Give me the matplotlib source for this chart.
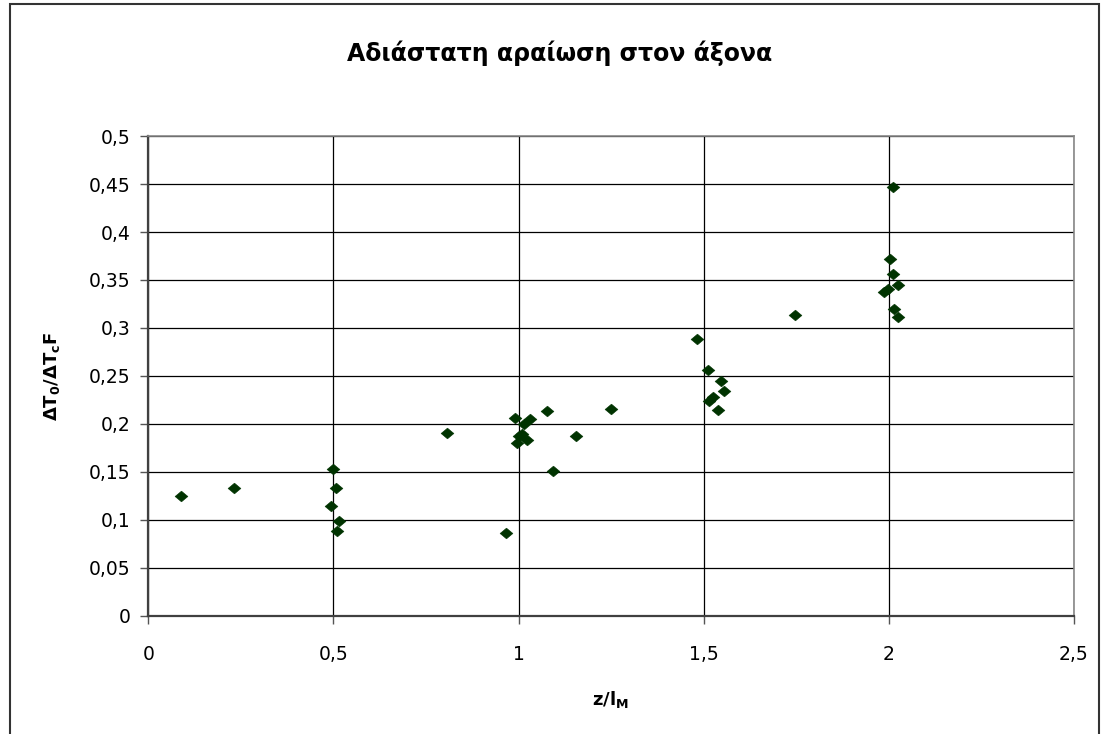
import matplotlib.pyplot as plt
from matplotlib.ticker import MultipleLocator, FuncFormatter
from matplotlib.patches import Rectangle
from matplotlib.path import Path

# z/lM and dimensionless dilution
z_over_lm = [0.088, 0.231, 0.499, 0.508, 0.493, 0.516, 0.509, 0.807, 0.966,
             0.990, 1.031, 1.000, 0.995, 1.022, 1.008, 1.015, 1.076, 1.092,
             1.154, 1.250, 1.481, 1.512, 1.548, 1.555, 1.526, 1.515, 1.538,
             1.746, 2.010, 2.003, 2.010, 2.025, 1.998, 1.988, 2.015, 2.025]
dilution = [0.125, 0.133, 0.153, 0.133, 0.115, 0.099, 0.088, 0.191, 0.086,
            0.206, 0.205, 0.187, 0.180, 0.183, 0.190, 0.200, 0.214, 0.151,
            0.188, 0.216, 0.289, 0.256, 0.245, 0.234, 0.228, 0.224, 0.215,
            0.314, 0.447, 0.372, 0.356, 0.345, 0.341, 0.337, 0.320, 0.311]

title = 'Αδιάστατη αραίωση στον άξονα'

plt.rcParams['font.family'] = ['DejaVu Sans']
plt.rcParams['mathtext.fontset'] = 'custom'
plt.rcParams['mathtext.rm'] = 'DejaVu Sans:bold'
plt.rcParams['mathtext.it'] = 'DejaVu Sans:bold'
plt.rcParams['mathtext.bf'] = 'DejaVu Sans:bold'

fig = plt.figure(figsize=(11.04, 7.34), dpi=100)
ax = fig.add_axes([0.1343, 0.1608, 0.8385, 0.6539])

# outer chart frame
fig.patches.append(Rectangle((10 / 1104, -0.1), 1089 / 1104, 1.1 - 4 / 734,
                             transform=fig.transFigure, fill=False,
                             edgecolor='#333333', linewidth=1.5))

# slightly wide diamond, like the Excel marker
diamond = Path([(-0.6, 0), (0, 0.5), (0.6, 0), (0, -0.5), (-0.6, 0)],
               [Path.MOVETO, Path.LINETO, Path.LINETO, Path.LINETO, Path.CLOSEPOLY])
ax.scatter(z_over_lm, dilution, marker=diamond, s=85, color='#003300',
           edgecolors='#003300', linewidths=0.4, zorder=3)

ax.set_xlim(0, 2.5)
ax.set_ylim(0, 0.5)
ax.xaxis.set_major_locator(MultipleLocator(0.5))
ax.yaxis.set_major_locator(MultipleLocator(0.05))
comma = FuncFormatter(lambda v, p: ('%g' % round(v, 3)).replace('.', ','))
ax.xaxis.set_major_formatter(comma)
ax.yaxis.set_major_formatter(comma)

ax.grid(True, color='black', linewidth=0.9)
ax.set_axisbelow(True)
ax.tick_params(direction='out', length=6, width=1, color='#555555',
               labelsize=13.5)
ax.tick_params(axis='y', pad=7)
ax.tick_params(axis='x', pad=15)

for side in ['left', 'bottom']:
    ax.spines[side].set_color('#404040')
    ax.spines[side].set_linewidth(1.6)
for side in ['top', 'right']:
    ax.spines[side].set_color('#888888')
    ax.spines[side].set_linewidth(1.2)

ax.set_xlabel(r'z/l$_{\mathrm{M}}$', fontsize=13, fontweight='bold')
ax.set_ylabel(r'ΔT$_0$/ΔT$_\mathrm{c}$F', fontsize=13, fontweight='bold')
ax.xaxis.set_label_coords(0.5 - 0 * 0.0 + (610 - 611) / 925.7, -0.152)
ax.yaxis.set_label_coords(-0.093, 0.5)

fig.text(560 / 1104, 1 - 53 / 734, title, ha='center', va='center',
         fontsize=17, fontweight='bold')

fig.savefig('out.png', dpi=100)
